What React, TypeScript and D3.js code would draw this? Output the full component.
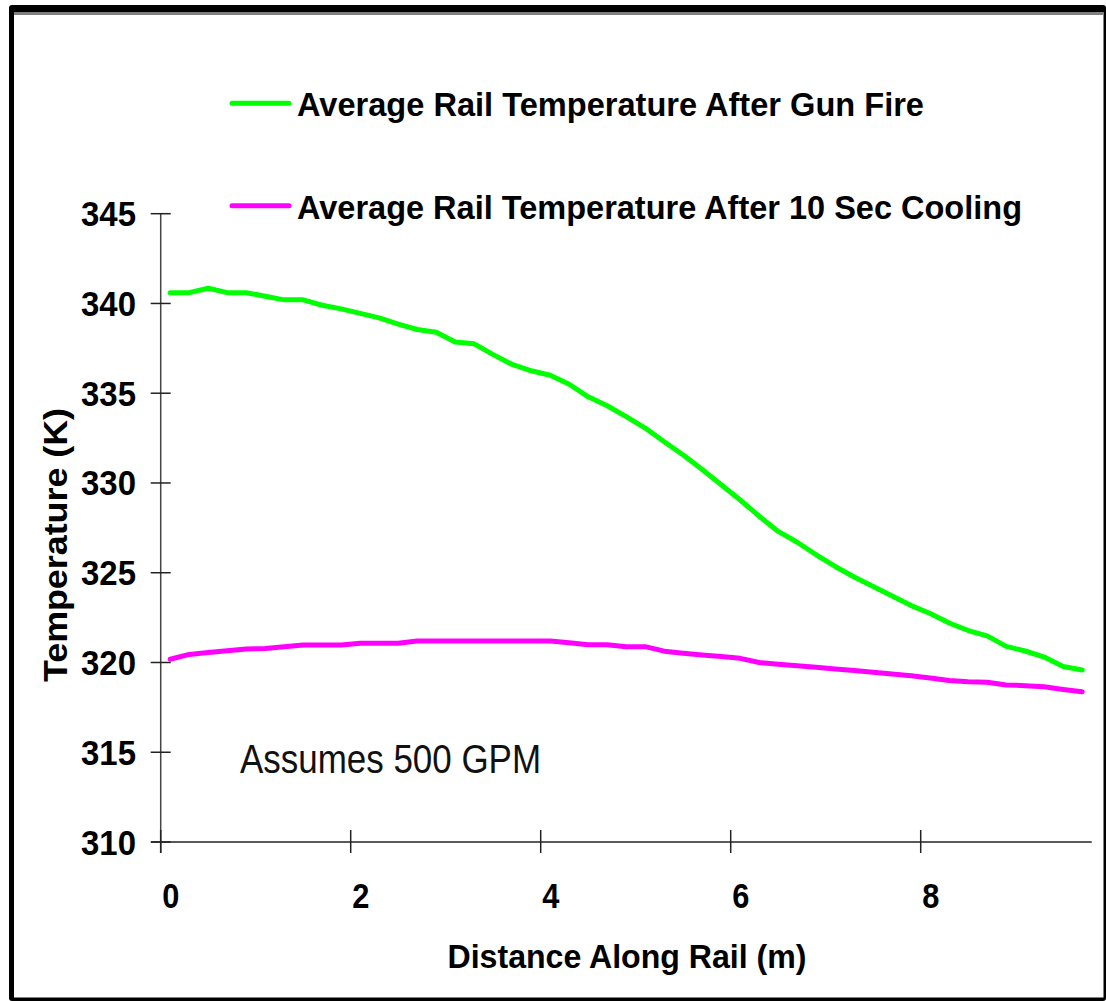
import React from "react";
import * as d3 from "d3";

const distance: number[] = [
  0.1, 0.3, 0.5, 0.7, 0.9, 1.1, 1.3, 1.5, 1.7, 1.9,
  2.1, 2.3, 2.5, 2.7, 2.9, 3.1, 3.3, 3.5, 3.7, 3.9,
  4.1, 4.3, 4.5, 4.7, 4.9, 5.1, 5.3, 5.5, 5.7, 5.9,
  6.1, 6.3, 6.5, 6.7, 6.9, 7.1, 7.3, 7.5, 7.7, 7.9,
  8.1, 8.3, 8.5, 8.7, 8.9, 9.1, 9.3, 9.5, 9.7,
];

const afterGunFire: number[] = [
  340.6, 340.6, 340.85, 340.6, 340.6, 340.4, 340.2, 340.2, 339.9, 339.7,
  339.45, 339.2, 338.85, 338.55, 338.4, 337.85, 337.75, 337.15, 336.6, 336.25,
  336.0, 335.5, 334.8, 334.3, 333.7, 333.06, 332.3, 331.56, 330.75, 329.9,
  329.05, 328.15, 327.3, 326.7, 326.0, 325.35, 324.76, 324.23, 323.7, 323.17,
  322.73, 322.2, 321.78, 321.48, 320.9, 320.64, 320.3, 319.78, 319.58,
];

const after10SecCooling: number[] = [
  320.18, 320.45, 320.55, 320.65, 320.75, 320.78, 320.88, 320.97, 320.97, 320.97,
  321.07, 321.07, 321.07, 321.2, 321.2, 321.2, 321.2, 321.2, 321.2, 321.2,
  321.2, 321.1, 320.99, 320.99, 320.88, 320.88, 320.63, 320.52, 320.42, 320.33,
  320.23, 320.0, 319.9, 319.82, 319.73, 319.64, 319.55, 319.45, 319.36, 319.26,
  319.14, 319.0, 318.93, 318.9, 318.75, 318.71, 318.65, 318.5, 318.37,
];

const xTicks: number[] = [0, 2, 4, 6, 8];
const yTicks: number[] = [310, 315, 320, 325, 330, 335, 340, 345];

const seriesNames: string[] = [
  "Average Rail Temperature After Gun Fire",
  "Average Rail Temperature After 10 Sec Cooling",
];
const seriesColors: string[] = ["#00ff00", "#ff00ff"];

const xTitle = "Distance Along Rail (m)";
const yTitle = "Temperature (K)";
const note = "Assumes 500 GPM";

const FONT = "'Liberation Sans', Arial, Helvetica, sans-serif";

export default function App() {
  const x = d3.scaleLinear().domain([0, 9.8]).range([160.7, 1091.7]);
  const y = d3.scaleLinear().domain([310, 345]).range([842, 213.7]);

  const line = d3
    .line<number>()
    .x((_, i) => x(distance[i]))
    .y((d) => y(d));

  const series = [afterGunFire, after10SecCooling];
  const legendY = [103.3, 205.7];
  const legendTextLen = [627, 725];

  return (
    <svg
      width={1106}
      height={1001}
      style={{ position: "absolute", left: 0, top: 0, display: "block" }}
      fontFamily={FONT}
    >
      {/* frame */}
      <rect x={9} y={5} width={1097} height={996} rx={3} fill="#000" />
      <rect x={14} y={12} width={1089.5} height={985.5} fill="#fff" />
      <rect x={14} y={12} width={1089.5} height={3} fill="#808080" />

      {/* axes */}
      <line x1={x(0)} x2={x(0)} y1={y(345)} y2={853} stroke="#444" strokeWidth={1.5} />
      <line x1={151} x2={x(9.8)} y1={y(310)} y2={y(310)} stroke="#222" strokeWidth={1.5} />
      {yTicks.map((t) => (
        <g key={"yt" + t}>
          <line x1={x(0) - 10} x2={x(0) + 10} y1={y(t)} y2={y(t)} stroke="#222" strokeWidth={1.5} />
          <text
            x={136}
            y={y(t) + 12.5}
            textAnchor="end"
            fontSize={35}
            fontWeight="bold"
            fill="#000"
            textLength={55}
            lengthAdjust="spacingAndGlyphs"
          >
            {t}
          </text>
        </g>
      ))}
      {xTicks.map((t) => (
        <g key={"xt" + t}>
          <line x1={x(t)} x2={x(t)} y1={y(310) - 12} y2={y(310) + 11} stroke="#222" strokeWidth={1.5} />
          <text
            x={x(t) + 10}
            y={908}
            textAnchor="middle"
            fontSize={35}
            fontWeight="bold"
            fill="#000"
            transform={`translate(${x(t) + 10},0) scale(0.88,1) translate(${-(x(t) + 10)},0)`}
          >
            {t}
          </text>
        </g>
      ))}

      {/* axis titles */}
      <text
        x={627}
        y={968}
        textAnchor="middle"
        fontSize={34}
        fontWeight="bold"
        textLength={359}
        lengthAdjust="spacingAndGlyphs"
      >
        {xTitle}
      </text>
      <text
        transform={`translate(55,545) rotate(-90)`}
        textAnchor="middle"
        dominantBaseline="central"
        fontSize={34}
        fontWeight="bold"
        textLength={274}
        lengthAdjust="spacingAndGlyphs"
      >
        {yTitle}
      </text>

      {/* note */}
      <text
        x={240}
        y={773}
        fontSize={41}
        fill="#111"
        textLength={301}
        lengthAdjust="spacingAndGlyphs"
      >
        {note}
      </text>

      {/* series */}
      {series.map((s, k) => (
        <path
          key={"s" + k}
          d={line(s) || ""}
          fill="none"
          stroke={seriesColors[k]}
          strokeWidth={5}
          strokeLinecap="round"
          strokeLinejoin="round"
        />
      ))}

      {/* legend */}
      {seriesNames.map((n, k) => (
        <g key={"lg" + k}>
          <line
            x1={232}
            x2={289}
            y1={legendY[k]}
            y2={legendY[k]}
            stroke={seriesColors[k]}
            strokeWidth={5}
            strokeLinecap="round"
          />
          <text
            x={297}
            y={legendY[k] + 13}
            fontSize={34}
            fontWeight="bold"
            textLength={legendTextLen[k]}
            lengthAdjust="spacingAndGlyphs"
          >
            {n}
          </text>
        </g>
      ))}
    </svg>
  );
}
